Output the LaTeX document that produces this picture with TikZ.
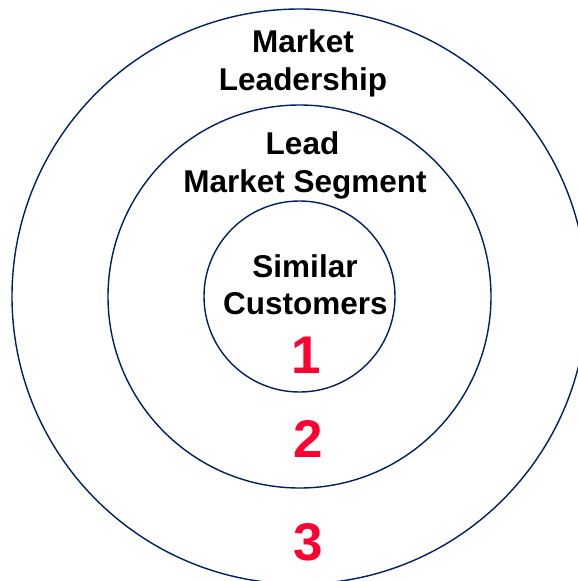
\documentclass[tikz,border=0pt]{standalone}
\usepackage{fontspec}
\setmainfont{Liberation Sans}
\definecolor{ringblue}{RGB}{0,32,96}
\definecolor{stepred}{RGB}{255,0,51}
\begin{document}
\begin{tikzpicture}[x=1pt,y=-1pt,
  ring/.style={draw=ringblue,line width=1.4pt},
  ringtext/.style={font=\bfseries\fontsize{31.5}{38}\selectfont,anchor=base,inner sep=0pt},
  stepnum/.style={font=\bfseries\fontsize{53}{60}\selectfont,text=stepred,anchor=base,inner sep=0pt}]
  \useasboundingbox (0,0) rectangle (578,581);
  \clip (0,0) rectangle (578,581);
  % concentric rings
  \coordinate (c) at (299.5,296.5);
  \draw[ring] (c) circle[radius=287.5];
  \draw[ring] (c) circle[radius=191.5];
  \draw[ring] (c) circle[radius=95.5];
  % ring titles
  \node[ringtext] (t1) at (303,52) {Market};
  \node[ringtext] (t2) at (303,90.5) {Leadership};
  \node[ringtext] (t3) at (302.5,154.5) {Lead};
  \node[ringtext] (t4) at (305,192.5) {Market Segment};
  \node[ringtext] (t5) at (305,277.5) {Similar};
  \node[ringtext] (t6) at (305.5,314) {Customers};
  % step numbers
  \node[stepnum] (n1) at (306.5,373.5) {1};
  \node[stepnum] (n2) at (308,457.5) {2};
  \node[stepnum] (n3) at (308,560) {3};
\end{tikzpicture}
\end{document}
